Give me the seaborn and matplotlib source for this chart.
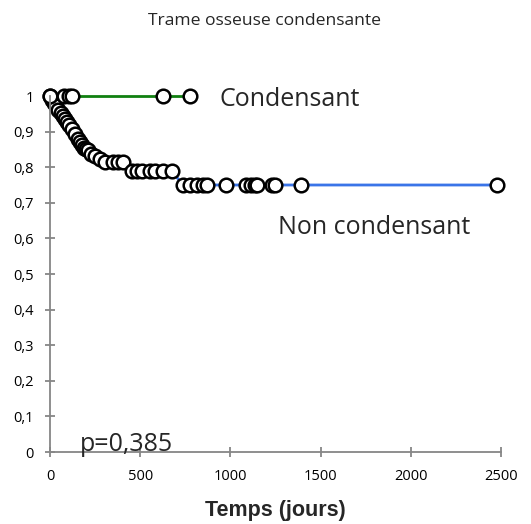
import matplotlib
matplotlib.use("Agg")
import matplotlib.pyplot as plt
import seaborn as sns
import pandas as pd

# Kaplan-Meier estimates (time in days, survival probability)
non_cond_days = [0, 11, 22, 33, 44, 61, 72, 83, 94, 105, 122, 139, 155, 166, 177, 188,
                 200, 211, 227, 249, 277, 305, 349, 377, 405, 455, 482, 510, 554, 582,
                 626, 676, 737, 776, 815, 850, 870, 975, 1085, 1115, 1135, 1150, 1230,
                 1245, 1390, 2480]
non_cond_surv = [1.0, 0.989, 0.980, 0.972, 0.961, 0.952, 0.944, 0.935, 0.927, 0.918,
                 0.907, 0.893, 0.879, 0.870, 0.862, 0.854, 0.851, 0.848, 0.837, 0.831,
                 0.822, 0.815, 0.815, 0.815, 0.815, 0.789, 0.789, 0.789, 0.789, 0.789,
                 0.789, 0.789, 0.75, 0.75, 0.75, 0.75, 0.75, 0.75, 0.75, 0.75, 0.75,
                 0.75, 0.75, 0.75, 0.75, 0.75]

cond_days = [0, 80, 105, 120, 625, 775]
cond_surv = [1.0, 1.0, 1.0, 1.0, 1.0, 1.0]

x_ticks = [0, 500, 1000, 1500, 2000, 2500]
y_ticks = [0, 0.1, 0.2, 0.3, 0.4, 0.5, 0.6, 0.7, 0.8, 0.9, 1.0]
y_tick_labels = ["0", "0,1", "0,2", "0,3", "0,4", "0,5", "0,6", "0,7", "0,8", "0,9", "1"]

sns.set_theme(style="white")
plt.rcParams["font.family"] = ["Open Sans", "DejaVu Sans"]

fig = plt.figure(figsize=(5.31, 5.24), dpi=100)
ax = fig.add_axes([50 / 531, 1 - 452 / 524, 451 / 531, 356 / 524])

marker_kw = dict(marker="o", markersize=9.8, markerfacecolor="white",
                 markeredgecolor="black", markeredgewidth=1.8, clip_on=False)

df_non = pd.DataFrame({"t": non_cond_days, "s": non_cond_surv})
df_cond = pd.DataFrame({"t": cond_days, "s": cond_surv})

sns.lineplot(data=df_non, x="t", y="s", estimator=None, sort=False, ax=ax,
             color="#3a74e8", linewidth=2, **marker_kw)
sns.lineplot(data=df_cond, x="t", y="s", estimator=None, sort=False, ax=ax,
             color="#108010", linewidth=2, **marker_kw)

ax.set_xlim(0, 2500)
ax.set_ylim(0, 1)
ax.set_xticks(x_ticks)
ax.set_xticklabels([str(v) for v in x_ticks])
ax.set_yticks(y_ticks)
ax.set_yticklabels(y_tick_labels)

axis_grey = "#868686"
for side in ["top", "right"]:
    ax.spines[side].set_visible(False)
for side in ["left", "bottom"]:
    ax.spines[side].set_color(axis_grey)
    ax.spines[side].set_linewidth(1.3)
ax.tick_params(axis="both", direction="inout", length=7, width=1.3, color=axis_grey,
               labelsize=10.5, labelcolor="black", left=True, bottom=True)
ax.tick_params(axis="y", pad=8)
ax.tick_params(axis="x", pad=9)
ax.grid(False)

ax.set_xlabel("Temps (jours)", fontsize=15.5, fontweight="bold",
              family="Liberation Sans", labelpad=11)
ax.set_ylabel("")

fig.text(264 / 531, 1 - 21 / 524, "Trame osseuse condensante", ha="center",
         va="center", fontsize=12.6)

ax.text(940, 0.99, "Condensant", fontsize=18, va="center", ha="left")
ax.text(1265, 0.632, "Non condensant", fontsize=18, va="center", ha="left")
ax.text(165, 0.022, "p=0,385", fontsize=18, va="center", ha="left")

fig.savefig("out.png", dpi=100)
